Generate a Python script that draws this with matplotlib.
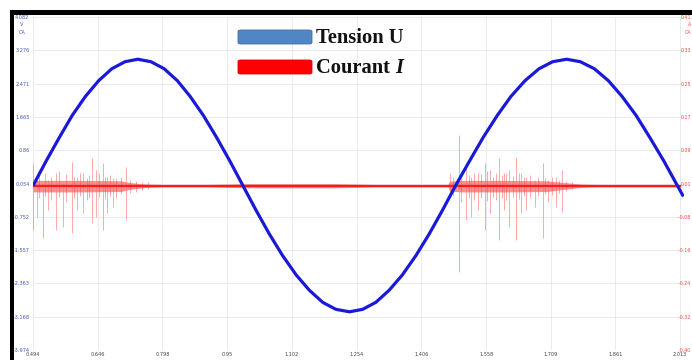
import matplotlib
matplotlib.use("Agg")
import matplotlib.pyplot as plt
from matplotlib.patches import Rectangle, FancyBboxPatch

# ---- time axis and scales ----
x_ticks = [0.494, 0.646, 0.798, 0.95, 1.102, 1.254, 1.406, 1.558, 1.709, 1.861, 2.013]
x_tick_labels = ["0.494", "0.646", "0.798", "0.95", "1.102", "1.254", "1.406", "1.558", "1.709", "1.861", "2.013"]
u_ticks = [4.082, 3.276, 2.471, 1.665, 0.86, 0.054, -0.752, -1.557, -2.363, -3.168, -3.974]
u_tick_labels = ["4.082", "3.276", "2.471", "1.665", "0.86", "0.054", "-0.752", "-1.557", "-2.363", "-3.168", "-3.974"]
i_ticks = [0.408, 0.328, 0.247, 0.167, 0.086, 0.005, -0.075, -0.156, -0.236, -0.317, -0.397]
i_tick_labels = ["0.41", "0.33", "0.25", "0.17", "0.09", "0.01", "-0.08", "-0.16", "-0.24", "-0.32", "-0.40"]

# ---- voltage U (V) ----
volt_t = [0.494, 0.525, 0.556, 0.586, 0.617, 0.648, 0.679, 0.710, 0.740, 0.771, 0.802, 0.833,
          0.863, 0.894, 0.925, 0.956, 0.987,
          1.018, 1.049, 1.080, 1.112, 1.143, 1.174, 1.205, 1.237, 1.268, 1.299, 1.330, 1.361,
          1.393, 1.424, 1.455, 1.486,
          1.519, 1.551, 1.584, 1.616, 1.649, 1.682, 1.714, 1.747, 1.779, 1.812, 1.845, 1.877,
          1.910, 1.942, 1.975, 2.007, 2.021]
volt_u = [0.00, 0.60, 1.17, 1.70, 2.16, 2.54, 2.83, 3.00, 3.06, 3.00, 2.83, 2.54,
          2.16, 1.70, 1.17, 0.60, 0.00,
          -0.60, -1.17, -1.69, -2.16, -2.53, -2.82, -2.99, -3.05, -2.99, -2.82, -2.53, -2.16,
          -1.69, -1.17, -0.60, 0.00,
          0.60, 1.17, 1.70, 2.16, 2.54, 2.83, 3.00, 3.06, 3.00, 2.83, 2.54, 2.16,
          1.70, 1.17, 0.60, 0.00, -0.26]

# ---- current I (A): baseline and noise envelope ----
base_t = [0.494, 2.013]
base_i = [0.0, 0.0]

band_t = [0.494, 0.496, 0.60, 0.70, 0.72, 0.76, 0.80, 0.90, 1.00, 1.10, 1.20, 1.25, 1.30,
          1.40, 1.468, 1.472, 1.50, 1.60, 1.70, 1.74, 1.78, 1.82, 1.90, 2.013]
band_hi = [0.010, 0.013, 0.013, 0.012, 0.008, 0.004, 0.003, 0.003, 0.005, 0.005, 0.005, 0.004,
           0.003, 0.003, 0.003, 0.011, 0.013, 0.013, 0.012, 0.008, 0.004, 0.003, 0.003, 0.003]
band_lo = [-0.012, -0.015, -0.015, -0.014, -0.009, -0.004, -0.003, -0.003, -0.005, -0.005,
           -0.005, -0.004, -0.003, -0.003, -0.003, -0.013, -0.015, -0.015, -0.014, -0.009,
           -0.004, -0.003, -0.003, -0.003]

# ---- current I (A): large spikes ----
spike_t = [0.495, 0.5027, 0.5168, 0.5299, 0.5480, 0.5651, 0.5848, 0.5965, 0.6120, 0.6317,
           0.6418, 0.6575, 0.6669, 0.6824, 0.7122,
           1.4739, 1.4941, 1.5115, 1.5232, 1.5387, 1.5544, 1.5678, 1.5879, 1.5990, 1.6114,
           1.6271, 1.6405, 1.6522, 1.6717, 1.6912, 1.7029, 1.7210, 1.7367]
spike_hi = [0.055, 0.021, 0.007, 0.014, 0.031, 0.007, 0.057, 0.021, 0.031, 0.067,
            0.038, 0.055, 0.021, 0.019, 0.045,
            0.031, 0.123, 0.055, 0.021, 0.031, 0.055, 0.038, 0.067, 0.031, 0.038,
            0.069, 0.031, 0.021, 0.014, 0.055, 0.014, 0.021, 0.038]
spike_lo = [-0.107, -0.076, -0.127, -0.059, -0.107, -0.100, -0.114, -0.059, -0.066, -0.090,
            -0.076, -0.107, -0.066, -0.052, -0.083,
            -0.027, -0.209, -0.083, -0.076, -0.059, -0.107, -0.066, -0.131, -0.059, -0.100,
            -0.131, -0.066, -0.059, -0.052, -0.127, -0.039, -0.052, -0.064]

# ---- current I (A): smaller spikes inside the bursts ----
small_t = [0.508, 0.522, 0.537, 0.556, 0.572, 0.590, 0.604, 0.620, 0.626, 0.648, 0.662,
           0.674, 0.690, 0.700, 0.722, 0.735, 0.750, 0.765,
           1.480, 1.500, 1.517, 1.530, 1.545, 1.560, 1.574, 1.582, 1.594, 1.605, 1.620,
           1.634, 1.646, 1.660, 1.680, 1.697, 1.712, 1.728, 1.745, 1.760]
small_hi = [0.025, 0.030, 0.020, 0.035, 0.028, 0.022, 0.030, 0.018, 0.026, 0.030, 0.020,
            0.025, 0.018, 0.022, 0.015, 0.012, 0.010, 0.008,
            0.020, 0.035, 0.025, 0.030, 0.028, 0.035, 0.022, 0.030, 0.026, 0.032, 0.024,
            0.030, 0.022, 0.025, 0.020, 0.018, 0.020, 0.015, 0.012, 0.008]
small_lo = [-0.030, -0.025, -0.035, -0.028, -0.040, -0.030, -0.025, -0.035, -0.030, -0.028,
            -0.032, -0.025, -0.030, -0.020, -0.018, -0.014, -0.010, -0.008,
            -0.025, -0.040, -0.030, -0.035, -0.030, -0.038, -0.028, -0.035, -0.030, -0.035,
            -0.028, -0.032, -0.026, -0.028, -0.025, -0.020, -0.022, -0.018, -0.012, -0.008]

W, H = 692, 360
fig = plt.figure(figsize=(W / 100, H / 100), dpi=100)
fig.patch.set_facecolor("white")

ax = fig.add_axes([33 / W, 1 - 350 / H, (684 - 33) / W, (350 - 17) / H])
ax.set_xlim(0.494, 2.0224)
ax.set_ylim(-3.974, 4.082)
ax.set_facecolor("white")
for s in ax.spines.values():
    s.set_visible(False)

ax.set_xticks(x_ticks, x_tick_labels)
ax.set_yticks(u_ticks, u_tick_labels)
ax.tick_params(axis="x", length=0, pad=1.5, labelsize=3.6, labelcolor="#444444")
ax.tick_params(axis="y", length=0, pad=2.5, labelsize=3.6, labelcolor="#4455c0")
ax.grid(True, color="#e6e8ec", linewidth=0.6)
ax.set_axisbelow(True)

# current on its own (right-hand) scale
ax2 = ax.twinx()
ax2.set_ylim(-0.3974, 0.4082)
for s in ax2.spines.values():
    s.set_visible(False)
ax2.set_yticks(i_ticks, i_tick_labels)
ax2.tick_params(axis="y", length=0, pad=0, labelsize=3.4, labelcolor="#ff4040")
for lab in ax2.get_yticklabels():
    lab.set_horizontalalignment("right")
    lab.set_x(1.0 + 7 / (684 - 33))

ax2.fill_between(band_t, band_lo, band_hi, color="#ff2020", alpha=0.5, linewidth=0, zorder=2)
ax2.vlines(small_t, small_lo, small_hi, color="#ff4848", alpha=0.55, linewidth=0.6, zorder=3)
ax2.vlines(spike_t, spike_lo, spike_hi, color="#ff7070", alpha=0.6, linewidth=0.7, zorder=3)
ax2.plot(base_t, base_i, color="#ff1a1a", linewidth=1.6, zorder=4)

# voltage drawn on top
ax3 = ax.twinx()
ax3.set_ylim(-3.974, 4.082)
ax3.set_yticks([])
for s in ax3.spines.values():
    s.set_visible(False)
ax3.plot(volt_t, volt_u, color="#1a1ad6", linewidth=2.3, solid_capstyle="butt", zorder=5)

# unit captions under the top scale values
fig.text(22 / W, 1 - 24 / H, "V", fontsize=3.6, color="#4455c0", ha="center", va="center")
fig.text(22 / W, 1 - 32 / H, "CA", fontsize=3.6, color="#4455c0", ha="center", va="center")
fig.text(691 / W, 1 - 24 / H, "A", fontsize=3.4, color="#ff4040", ha="right", va="center")
fig.text(691 / W, 1 - 32 / H, "CA", fontsize=3.4, color="#ff4040", ha="right", va="center")


def fx(px):
    return px / W


def fy(py):
    return 1 - py / H


# legend
fig.patches.append(FancyBboxPatch((fx(238), fy(44)), fx(312) - fx(238), fy(30) - fy(44),
                                  boxstyle="round,pad=0,rounding_size=0.004",
                                  transform=fig.transFigure, facecolor="#4f86c6",
                                  edgecolor="#3c6fae", linewidth=0.6, zorder=10))
fig.patches.append(FancyBboxPatch((fx(238), fy(74)), fx(312) - fx(238), fy(60) - fy(74),
                                  boxstyle="round,pad=0,rounding_size=0.004",
                                  transform=fig.transFigure, facecolor="#ff0000",
                                  edgecolor="#e00000", linewidth=0.6, zorder=10))
legend_font = dict(fontsize=14.8, fontweight="bold", family="Liberation Serif",
                   color="#111111", va="center", ha="left", zorder=11)
fig.text(fx(316), fy(38), "Tension U", **legend_font)
t1 = fig.text(fx(316), fy(68), "Courant", **legend_font)
fig.canvas.draw()
ext = t1.get_window_extent(fig.canvas.get_renderer())
fig.text(fx(ext.x1 + 5), fy(68), "I", style="italic", **legend_font)

# black frame edges
fig.patches.append(Rectangle((fx(10), fy(15)), 1 - fx(10), fy(10) - fy(15),
                             transform=fig.transFigure, facecolor="black", edgecolor="none", zorder=20))
fig.patches.append(Rectangle((fx(10), 0), fx(14) - fx(10), fy(10),
                             transform=fig.transFigure, facecolor="black", edgecolor="none", zorder=20))

fig.savefig("out.png", dpi=100, facecolor="white")
